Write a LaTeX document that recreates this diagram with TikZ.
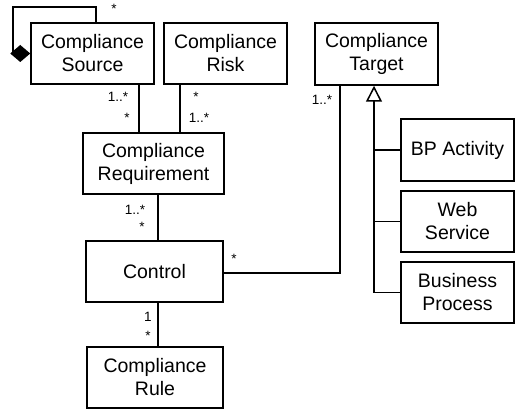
\documentclass[tikz,border=0pt]{standalone}
\usepackage{fontspec}
\setmainfont{Liberation Sans}
\usetikzlibrary{arrows.meta}
\begin{document}
\begin{tikzpicture}[x=1pt,y=-1pt,
  cls/.style={draw,line width=1.5pt,align=center,inner sep=0pt,
    font=\fontsize{19.5}{23}\selectfont},
  conn/.style={line width=1.5pt},
  mult/.style={font=\fontsize{13.5}{15}\selectfont,inner sep=0pt}]
\useasboundingbox (0,0) rectangle (516,409);
\node[cls,minimum width=123pt,minimum height=61pt] (src) at (92.5,53.5) {Compliance\\Source};
\node[cls,minimum width=123pt,minimum height=61pt] (risk) at (225.5,53.5) {Compliance\\Risk};
\node[cls,minimum width=123pt,minimum height=62pt] (tgt) at (376.5,54) {Compliance\\Target};
\node[cls,minimum width=141pt,minimum height=61pt] (req) at (153.5,163.5) {Compliance\\Requirement};
\node[cls,minimum width=137pt,minimum height=61pt] (ctrl) at (154.5,271.5) {Control};
\node[cls,minimum width=136pt,minimum height=61pt] (rule) at (155,377.5) {Compliance\\Rule};
\node[cls,minimum width=113pt,minimum height=62pt] (bp) at (457.5,150) {BP Activity};
\node[cls,minimum width=113pt,minimum height=61pt] (ws) at (457.5,221.5) {Web\\Service};
\node[cls,minimum width=113pt,minimum height=61pt] (bpr) at (457.5,292.5) {Business\\Process};
% self association
\coordinate (loopA) at ([xshift=3.5pt]src.north);
\coordinate (loopB) at (13,7);
\draw[conn,-{Diamond[length=20pt,width=17pt]}] (loopA) -- (loopA |- loopB) -- (loopB) -- (loopB |- src.west) -- (src.west);
\node[mult] at (114,9) {*};
% source - requirement
\coordinate (sr) at ([xshift=46.5pt]src.south);
\draw[conn] (sr) -- (sr |- req.north);
\node[mult] at (118,97) {1..*};
\node[mult] at (127,118) {*};
% risk - requirement
\coordinate (rr) at ([xshift=-45.5pt]risk.south);
\draw[conn] (rr) -- (rr |- req.north);
\node[mult] at (196,97) {*};
\node[mult] at (199,118) {1..*};
% requirement - control
\coordinate (rc) at ([xshift=4.5pt]req.south);
\draw[conn] (rc) -- (rc |- ctrl.north);
\node[mult] at (135,210) {1..*};
\node[mult] at (142,227) {*};
% control - rule
\coordinate (cr) at ([xshift=3.5pt]ctrl.south);
\draw[conn] (cr) -- (cr |- rule.north);
\node[mult] at (148,317) {1};
\node[mult] at (148,336) {*};
% control - target
\coordinate (ct) at ([xshift=-36.5pt]tgt.south);
\draw[conn] ([yshift=-1.5pt]ctrl.east) -| (ct);
\node[mult] at (234,259) {*};
\node[mult] at (322,100) {1..*};
% generalization
\coordinate (gen) at ([xshift=-2.5pt]tgt.south);
\coordinate (genb) at (gen |- bpr.west);
\draw[conn] (bp.west) -- (bp.west -| gen);
\draw[conn] (ws.west) -- (ws.west -| gen);
\draw[conn] (bpr.west) -- (genb);
\draw[conn,-{Triangle[open,length=16pt,width=16pt,fill=white]}] (genb) -- (gen);
\end{tikzpicture}
\end{document}
